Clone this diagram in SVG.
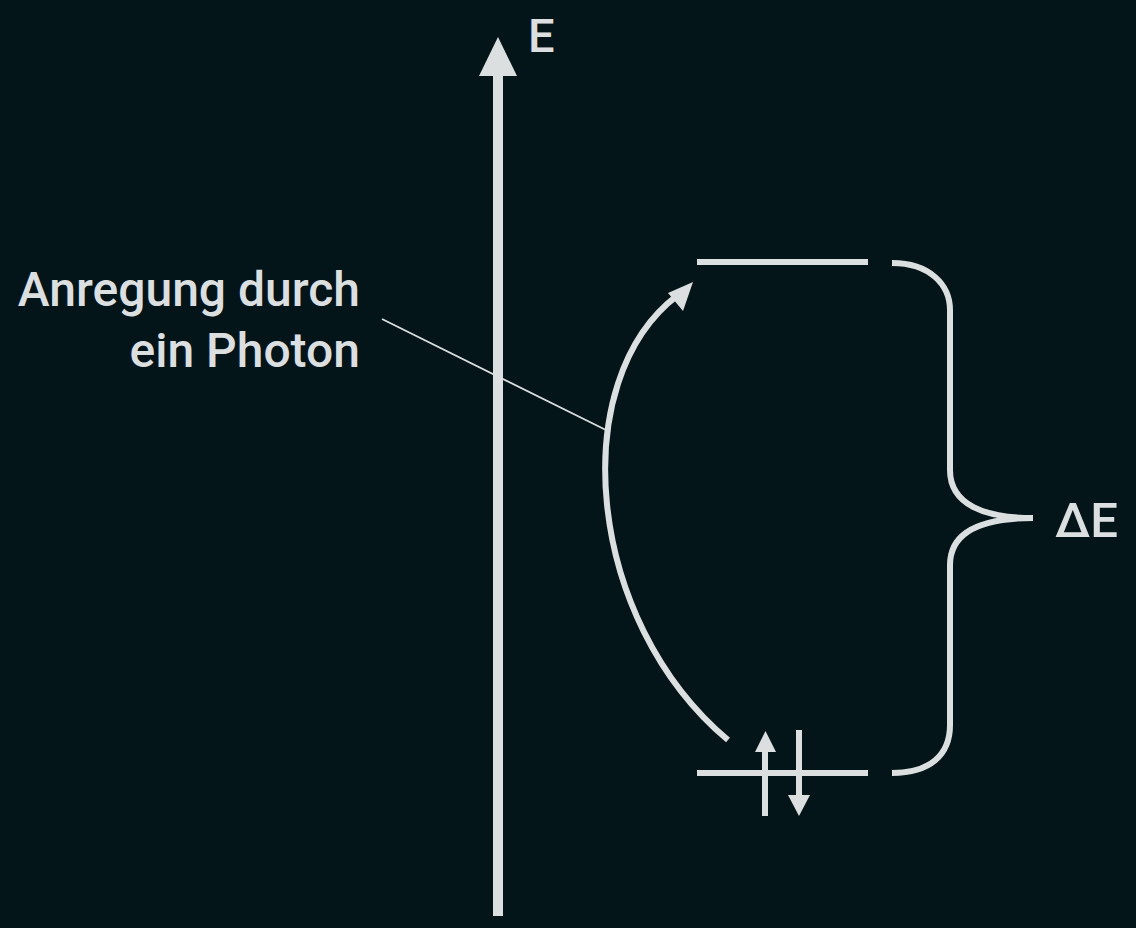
<svg xmlns="http://www.w3.org/2000/svg" width="1136" height="928" viewBox="0 0 1136 928">
<style>
.ln{stroke:#dcdfe0;fill:none;stroke-linecap:butt}
.tx{font-family:Roboto,"Liberation Sans",sans-serif;fill:#dcdfe0;font-weight:500}
</style>
<rect width="1136" height="928" fill="#041519"/>
<g id="connectors">
<line class="ln" x1="382" y1="319" x2="610" y2="432" stroke-width="1.8"/>
<path class="ln" d="M728,740 C585,620 565,380 678,295" stroke-width="6"/>
<polygon points="693,282 668,293 683,311" fill="#dcdfe0"/>
</g>
<g id="axis">
<line class="ln" x1="498" y1="916" x2="498" y2="72" stroke-width="10"/>
<polygon points="479,76 517,76 498,37" fill="#dcdfe0"/>
<text class="tx" x="528" y="52" font-size="47" letter-spacing="0">E</text>
</g>
<g id="upper-level">
<line class="ln" x1="697" y1="262" x2="868" y2="262" stroke-width="6"/>
</g>
<g id="lower-level">
<line class="ln" x1="697" y1="773" x2="868" y2="773" stroke-width="6"/>
<line class="ln" x1="765" y1="816" x2="765" y2="750" stroke-width="6"/>
<polygon points="755,752 776,752 765.5,731" fill="#dcdfe0"/>
<line class="ln" x1="799" y1="730" x2="799" y2="796" stroke-width="6"/>
<polygon points="788,795 810,795 799,816" fill="#dcdfe0"/>
</g>
<g id="brace">
<path class="ln" d="M892,263 C930,263 950,285 950,310 L950,470 C950,505 985,518 1033,518 C985,518 950,530 950,565 L950,725 C950,755 930,773 892,773" stroke-width="6"/>
<text class="tx" x="1055" y="537" font-size="49">ΔE</text>
</g>
<g id="label">
<text class="tx" x="360" y="306" font-size="48" text-anchor="end">Anregung durch</text>
<text class="tx" x="360" y="367" font-size="48" text-anchor="end">ein Photon</text>
</g>
</svg>
